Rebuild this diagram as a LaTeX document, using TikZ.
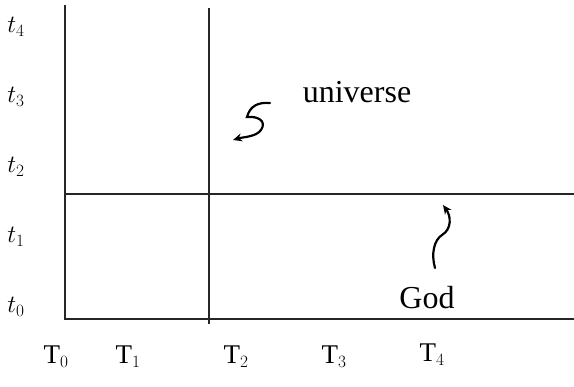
\documentclass[tikz,border=0pt]{standalone}
\usepackage{fontspec}
\setmainfont{Liberation Serif}
\usetikzlibrary{arrows.meta}
\begin{document}
\begin{tikzpicture}[x=1pt,y=-1pt,
  axis/.style={line width=1.8pt,black!85},
  lbl/.style={inner sep=0pt,font=\fontsize{27}{29}\selectfont},
  word/.style={inner sep=0pt,font=\fontsize{32}{34}\selectfont},
  squig/.style={line width=2.2pt,line cap=round,-{Stealth[length=9pt,width=8pt]}}]
\useasboundingbox (0,0) rectangle (574,387);
\coordinate (lt) at (65,5);
\coordinate (lb) at (65,319);
\coordinate (br) at (574,319);
\coordinate (ml) at (65,194);
\coordinate (mr) at (574,194);
\coordinate (vt) at (209,8);
\coordinate (vb) at (209,324);
\draw[axis] (lt) -- (lb) -- (br);
\draw[axis] (ml) -- (mr);
\draw[axis] (vt) -- (vb);
\node[lbl] (t4) at (16,27) {$t_4$};
\node[lbl] (t3) at (16,97) {$t_3$};
\node[lbl] (t2) at (16,167) {$t_2$};
\node[lbl] (t1) at (16,237) {$t_1$};
\node[lbl] (t0) at (16,307) {$t_0$};
\node[lbl] (T0) at (56,357) {T$_0$};
\node[lbl] (T1) at (128,357) {T$_1$};
\node[lbl] (T2) at (236,357) {T$_2$};
\node[lbl] (T3) at (334,357) {T$_3$};
\node[lbl] (T4) at (432,355) {T$_4$};
\node[word] (univ) at (357,92) {universe};
\node[word] (god) at (427,298) {God};
\coordinate (s1) at (270,103);
\coordinate (e1) at (233,140);
\draw[squig] (s1) .. controls (258,102) and (250,106) .. (247,117)
  .. controls (258,116) and (267,121) .. (261,130)
  .. controls (256,137) and (243,137) .. (e1);
\coordinate (s2) at (435,268);
\coordinate (e2) at (443,205);
\draw[squig] (s2) .. controls (431,254) and (434,240) .. (442,235)
  .. controls (452,229) and (451,216) .. (e2);
\end{tikzpicture}
\end{document}
